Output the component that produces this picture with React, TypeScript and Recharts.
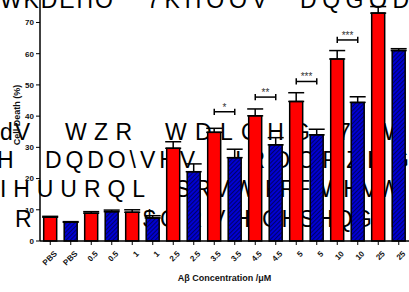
import React from 'react';
import {BarChart, Bar, Cell, XAxis, YAxis, ErrorBar, ReferenceLine} from 'recharts';

const groups = ['PBS', '0.5', '1', '2.5', '3.5', '4.5', '5', '10', '25'];
const redValues = [7.6, 8.9, 9.2, 29.7, 34.8, 40.1, 44.7, 58.3, 73.0];
const redErrors = [0.3, 0.5, 0.8, 2.1, 1.3, 2.2, 2.8, 2.7, 2.1];
const blueValues = [6.0, 9.4, 7.4, 22.2, 26.7, 30.8, 34.0, 44.4, 61.0];
const blueErrors = [0.2, 0.5, 0.7, 2.5, 2.7, 2.3, 1.8, 1.8, 0.6];
const yTicks = [0, 10, 20, 30, 40, 50, 60, 70];

const sigGroups = ['3.5', '4.5', '5', '10'];
const sigLevels = [41.4, 46.1, 51.1, 64.4];
const sigStars = ['*', '**', '***', '***'];

// scrambled page text that sits behind the figure
const bgWords: [string, number, number, number][] = [
  ['WKDEHO', 0, 8, 113], ['7KHOOV', 147, 8, 120], ['DQGOD', 300, 8, 109],
  ['dV', 0, 140, 30], ['WZR', 65, 140, 67], ['WDLOHG', 165, 140, 145], ['7', 338, 140, 12], ['W', 383, 140, 20],
  ['H', -3, 168, 15], ['DQDO\\VHV', 45, 168, 150], ['IROORZHG', 235, 168, 174],
  ['IHUURQL', 0, 197, 145], ['SRVW', 175, 197, 80], ['KRF', 265, 197, 45], ['WHVW', 320, 197, 80],
  ['R', 15, 227, 15], ['$', 143, 227, 12], ['GRVH', 160, 227, 90], ['GHSHQG', 262, 227, 110], ['H', 390, 227, 14],
];

const rows = groups.flatMap((g, i) => [
  {key: `${g}|r`, value: redValues[i], err: [0, redErrors[i]], fill: '#ff0000'},
  {key: `${g}|b`, value: blueValues[i], err: [0, blueErrors[i]], fill: 'url(#hatch)'},
]);

const fontFamily = '"Liberation Sans", Arial, sans-serif';

const RotatedTick = ({x, y, payload}: any) => (
  <g transform={`translate(${x + 3},${y + 3})`}>
    <text x={0} y={0} dy={6} textAnchor="end" fontSize={8} fontWeight="bold" fill="#111"
      fontFamily={fontFamily} transform="rotate(-45)">
      {String(payload.value).split('|')[0]}
    </text>
  </g>
);

const App = () => (
  <div style={{position: 'absolute', left: 0, top: 0, width: 409, height: 292}}>
    <svg width={409} height={292} style={{position: 'absolute', left: 0, top: 0}}>
      {bgWords.map(([t, x, y, w], i) => (
        <text key={i} x={x} y={y} fontSize={23} fontFamily={fontFamily} fill="#000"
          textLength={w} lengthAdjust="spacing">{t}</text>
      ))}
    </svg>
    <div style={{position: 'absolute', left: 0, top: 0}}>
      <BarChart width={409} height={292} data={rows} margin={{top: 0, right: 0, bottom: 0, left: 0}}
        barCategoryGap="18%">
        <defs>
          <pattern id="hatch" patternUnits="userSpaceOnUse" width="3" height="3" patternTransform="rotate(45)">
            <rect width="3" height="3" fill="#0000d4" />
            <line x1="0.5" y1="0" x2="0.5" y2="3" stroke="#00006a" strokeWidth="1.1" />
          </pattern>
        </defs>
        <XAxis dataKey="key" height={51} interval={0} tick={<RotatedTick />} tickSize={4}
          axisLine={{stroke: '#000', strokeWidth: 1.5}} tickLine={{stroke: '#000', strokeWidth: 1}}
          label={{value: 'A\u03b2 Concentration /\u03bcM', position: 'insideBottom', offset: 11,
            fontSize: 9, fontWeight: 'bold', fill: '#111', fontFamily}} />
        <YAxis width={40} domain={[0, 77.2]} ticks={yTicks} interval={0} tickSize={4}
          tick={{fontSize: 8, fontWeight: 'bold', fill: '#111', fontFamily}}
          axisLine={{stroke: '#000', strokeWidth: 1.5}} tickLine={{stroke: '#000', strokeWidth: 1}} />
        <text x={18} y={115} transform="rotate(-90, 18, 115)" textAnchor="middle" dominantBaseline="middle"
          fontSize={9} fontWeight="bold" fill="#111" fontFamily={fontFamily}>Cell Death (%)</text>
        <Bar dataKey="value" stroke="#000" strokeWidth={1.5} isAnimationActive={false}>
          {rows.map((r) => <Cell key={r.key} fill={r.fill} />)}
          <ErrorBar dataKey="err" width={8} stroke="#000" strokeWidth={1.5} direction="y" />
        </Bar>
        {sigGroups.map((g, i) => (
          <ReferenceLine key={`h${g}`} segment={[{x: `${g}|r`, y: sigLevels[i]}, {x: `${g}|b`, y: sigLevels[i]}]}
            stroke="#000" strokeWidth={1.5}
            label={{value: sigStars[i], position: 'top', offset: 1, fontSize: 10, fill: '#333', fontFamily}} />
        ))}
        {sigGroups.map((g, i) => (
          <ReferenceLine key={`l${g}`} segment={[{x: `${g}|r`, y: sigLevels[i] - 1}, {x: `${g}|r`, y: sigLevels[i] + 1}]}
            stroke="#000" strokeWidth={1.5} />
        ))}
        {sigGroups.map((g, i) => (
          <ReferenceLine key={`r${g}`} segment={[{x: `${g}|b`, y: sigLevels[i] - 1}, {x: `${g}|b`, y: sigLevels[i] + 1}]}
            stroke="#000" strokeWidth={1.5} />
        ))}
      </BarChart>
    </div>
  </div>
);

export default App;
